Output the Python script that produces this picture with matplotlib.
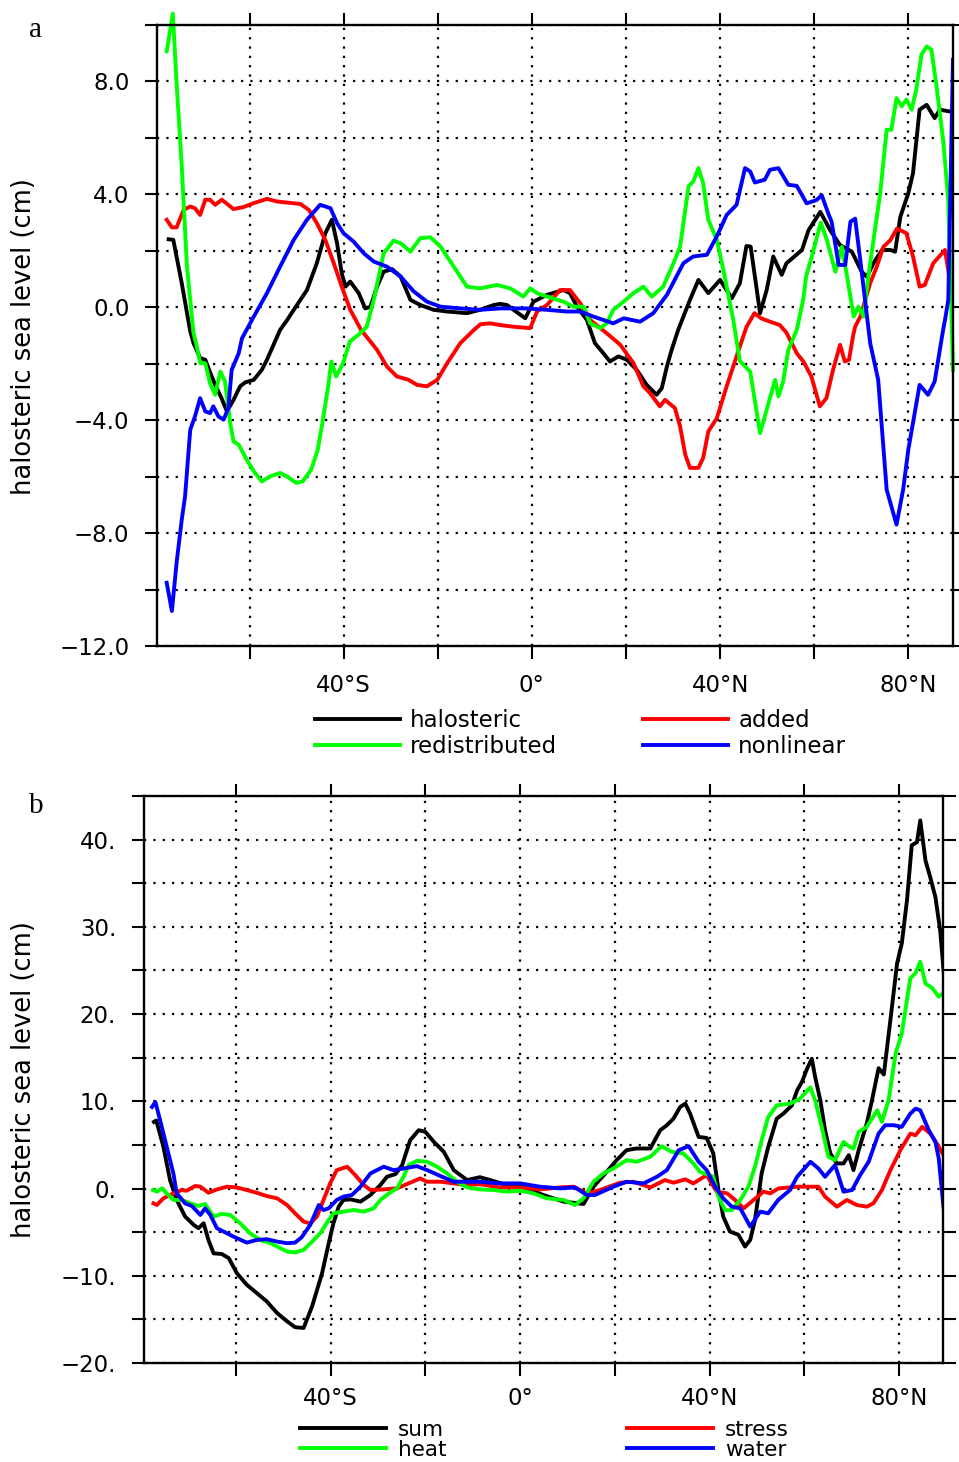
import matplotlib
matplotlib.use("Agg")
import matplotlib.pyplot as plt
from matplotlib.ticker import FixedLocator, FixedFormatter

# ---------------- Panel a data ----------------
halo_lat = [-77.2, -76.2, -74.4, -72.6, -71.9, -70.5, -69.4, -68.3, -67.3, -66.0, -64.8, -63.4, -62.0,
            -60.9, -59.1, -57.4, -56.3, -54.9, -53.5, -52.0, -50.6, -47.8, -45.7, -43.9, -42.5, -41.4,
            -40.4, -39.6, -38.6, -36.8, -35.4, -34.3, -32.9, -31.5, -29.7, -27.9, -25.8, -23.7, -20.9,
            -18.0, -13.8, -11.0, -8.1, -6.7, -5.3, -1.4, 0.35, 3.2, 6.7, 8.1, 9.6, 11.7, 13.4, 15.2,
            16.6, 18.4, 20.2, 22.3, 24.4, 26.5, 27.6, 28.7, 29.7, 31.1, 33.6, 35.4, 37.5, 40.0, 42.5,
            44.2, 45.6, 46.5, 48.5, 49.9, 51.3, 53.1, 54.1, 54.9, 57.4, 58.8, 61.3, 63.4, 65.5, 68.0,
            70.1, 71.2, 72.6, 74.4, 76.2, 77.2, 78.3, 80.0, 81.0, 82.4, 83.9, 85.6, 86.7, 88.7]
halo_val = [2.41, 2.39, 0.85, -0.85, -1.27, -1.80, -1.86, -2.34, -2.75, -3.20, -3.69, -3.28, -2.80,
            -2.66, -2.57, -2.22, -1.86, -1.33, -0.80, -0.45, -0.09, 0.61, 1.56, 2.62, 3.10, 2.27,
            1.20, 0.73, 0.91, 0.50, -0.04, 0.02, 0.73, 1.26, 1.35, 1.09, 0.26, 0.08, -0.09,
            -0.15, -0.21, -0.09, 0.08, 0.12, 0.08, -0.39, 0.20, 0.44, 0.61, 0.50, 0.02, -0.45, -1.27, -1.63,
            -1.92, -1.74, -1.86, -2.22, -2.75, -3.10, -2.87, -2.10, -1.51, -0.80, 0.26, 0.97, 0.50, 0.97, 0.32,
            0.85, 2.17, 2.15, -0.21, 0.61, 1.80, 1.15, 1.56, 1.67, 2.03, 2.73, 3.38, 2.73, 2.20, 1.97,
            1.26, 1.08, 1.56, 2.03, 2.03, 1.97, 3.20, 4.04, 4.75, 7.00, 7.17, 6.70, 7.00, 6.94]

added_lat = [-77.6, -76.5, -75.5, -74.0, -72.6, -71.6, -70.5, -69.4, -68.4, -67.3, -65.9, -63.4, -61.3,
             -59.1, -56.3, -54.2, -52.1, -49.2, -47.4, -45.7, -43.9, -42.1, -40.4, -38.6, -36.3, -32.9,
             -30.8, -28.7, -26.2, -24.4, -22.3, -20.1, -18.0, -15.2, -12.3, -10.9, -8.8, -6.7, -3.9,
             -0.35, 1.1, 3.2, 6.0, 8.1, 10.3, 12.4, 15.9, 18.8, 21.6, 23.7, 25.1, 27.2, 28.3, 30.4,
             31.5, 32.6, 33.6, 35.4, 36.4, 37.5, 39.3, 41.4, 43.5, 45.6, 47.3, 48.7, 50.6, 52.7, 54.1,
             56.3, 57.7, 59.4, 61.2, 62.6, 64.0, 65.5, 66.5, 67.4, 68.3, 68.7, 69.8, 71.9, 73.3, 74.7,
             76.2, 77.6, 79.6, 81.0, 82.4, 83.5, 85.3, 87.8, 89.5]
added_val = [3.10, 2.83, 2.83, 3.45, 3.57, 3.51, 3.27, 3.81, 3.81, 3.63, 3.81, 3.48, 3.55,
             3.69, 3.84, 3.75, 3.71, 3.66, 3.45, 2.98, 2.39, 1.56, 0.73, -0.09, -0.80, -1.51,
             -2.10, -2.45, -2.57, -2.75, -2.80, -2.57, -1.98, -1.27, -0.80, -0.60, -0.57, -0.63, -0.69,
             -0.74, -0.15, 0.08, 0.61, 0.61, 0.14, -0.45, -0.92, -1.33, -1.98, -2.80, -3.04, -3.51, -3.28, -3.57,
             -4.22, -5.22, -5.69, -5.69, -5.34, -4.40, -3.93, -2.80, -1.74, -0.70, -0.21, -0.39, -0.51, -0.63, -0.90,
             -1.63, -1.92, -2.45, -3.51, -3.22, -2.22, -1.33, -1.92, -1.86, -0.98, -0.69, -0.33, 0.85, 1.44, 2.14,
             2.38, 2.79, 2.62, 1.80, 0.73, 0.79, 1.56, 2.03, 0.26]

redis_lat = [-77.6, -76.3, -75.5, -74.4, -73.3, -71.9, -71.2, -70.5, -69.4, -68.4, -67.3, -66.2, -65.2,
             -64.1, -63.4, -62.3, -60.6, -59.1, -57.4, -55.6, -53.5, -52.1, -50.1, -48.7, -46.9, -45.5,
             -44.4, -43.3, -42.6, -41.6, -40.1, -38.7, -36.9, -35.1, -33.6, -31.5, -29.4, -27.9, -25.8,
             -23.7, -21.6, -19.4, -16.6, -13.8, -11.0, -7.4, -4.6, -1.8, -0.35, 1.1, 3.2, 6.7, 8.8, 11.0,
             12.4, 14.5, 15.9, 17.3, 19.5, 21.6, 23.7, 25.5, 27.9, 30.1, 31.5, 33.3, 34.3, 35.4, 36.4,
             37.5, 39.3, 40.7, 42.8, 44.2, 46.4, 48.5, 49.9, 51.7, 52.4, 53.4, 54.5, 56.3, 57.7, 58.3,
             59.5, 61.4, 62.7, 64.5, 65.9, 67.0, 68.4, 69.4, 70.5, 71.5, 72.9, 74.0, 75.4, 76.4, 77.5,
             78.6, 79.6, 80.7, 81.7, 82.8, 83.9, 84.9, 86.0, 87.4, 88.5, 89.5]
redis_val = [9.07, 10.4, 7.94, 4.99, 1.44, -0.92, -1.39, -1.98, -1.98, -2.69, -3.10, -2.28, -2.63,
             -4.10, -4.75, -4.87, -5.40, -5.81, -6.17, -5.99, -5.87, -5.99, -6.22, -6.17, -5.75, -5.05,
             -3.98, -2.81, -1.92, -2.45, -1.98, -1.22, -0.98, -0.69, 0.26, 1.91, 2.36, 2.27, 1.97,
             2.45, 2.48, 2.15, 1.44, 0.73, 0.67, 0.79, 0.67, 0.38, 0.67, 0.50, 0.38, 0.20, 0.02, 0.02,
             -0.57, -0.74, -0.57, -0.09, 0.20, 0.50, 0.73, 0.38, 0.73, 1.56, 2.15, 4.28, 4.46, 4.93, 4.40,
             3.10, 2.39, 1.32, -0.45, -1.90, -2.28, -4.46, -3.63, -2.57, -3.16, -2.63, -1.51, -0.80, 0.30, 1.10,
             1.80, 3.00, 2.38, 1.26, 2.14, 1.08, -0.33, 0.02, -0.33, 1.08, 2.73, 4.00, 6.29, 6.29, 7.41,
             7.12, 7.36, 7.00, 7.71, 8.95, 9.24, 9.13, 7.83, 5.93, 3.80, -2.22]

nonlin_lat = [-77.6, -76.5, -75.5, -74.4, -73.7, -72.6, -71.6, -70.5, -69.4, -68.4, -67.7, -66.6, -65.5,
              -64.5, -63.8, -62.3, -61.6, -59.1, -56.3, -53.5, -50.6, -47.8, -45.0, -42.8, -41.4, -40.0,
              -37.9, -35.7, -33.6, -30.8, -27.9, -25.1, -22.3, -19.4, -15.2, -11.0, -6.7, -1.1, 3.2, 7.4,
              10.3, 13.1, 17.3, 19.5, 23.0, 25.8, 28.7, 32.2, 34.3, 37.2, 39.3, 41.4, 43.5, 45.3, 46.4,
              47.4, 49.5, 50.6, 52.4, 54.5, 56.3, 58.4, 60.5, 61.6, 63.0, 63.7, 65.2, 66.6, 67.7, 68.7,
              69.8, 70.8, 71.9, 73.6, 75.4, 77.5, 78.9, 80.0, 82.4, 84.2, 85.6, 87.4, 87.8, 88.5, 89.5]
nonlin_val = [-9.76, -10.76, -9.05, -7.52, -6.70, -4.34, -3.87, -3.22, -3.69, -3.75, -3.51, -3.87, -3.98,
              -3.57, -2.22, -1.63, -1.10, -0.33, 0.50, 1.44, 2.39, 3.10, 3.63, 3.51, 2.98, 2.62,
              2.33, 1.91, 1.62, 1.44, 1.09, 0.56, 0.20, 0.02, -0.04, -0.09, -0.04, -0.04, -0.09, -0.15,
              -0.15, -0.33, -0.57, -0.39, -0.51, -0.21, 0.44, 1.56, 1.80, 1.86, 2.51, 3.27, 3.63, 4.93, 4.81,
              4.42, 4.52, 4.87, 4.93, 4.34, 4.30, 3.68, 3.80, 3.97, 3.32, 3.03, 1.50, 1.50, 3.03, 3.14,
              1.67, 0.26, -1.27, -2.57, -6.46, -7.70, -6.46, -5.05, -2.75, -3.10, -2.63, -0.80, -0.45, 0.26, 8.77]

# ---------------- Panel b data ----------------
sum_lat = [-77.3, -76.8, -75.3, -73.9, -72.5, -70.7, -68.9, -67.9, -66.8, -65.8, -64.7, -63.0, -61.5,
           -59.8, -57.7, -55.6, -53.5, -51.3, -49.2, -47.5, -45.7, -43.9, -41.8, -40.4, -39.4, -38.3,
           -37.3, -35.8, -33.7, -31.6, -29.5, -28.1, -26.3, -24.9, -23.2, -21.4, -20.0, -18.2, -16.1,
           -14.0, -11.2, -8.5, -6.3, -2.8, 0.7, 4.9, 9.2, 13.4, 15.5, 18.3, 20.4, 22.5, 24.6, 27.5,
           29.6, 31.0, 32.4, 33.8, 34.9, 35.9, 37.7, 39.4, 40.8, 41.9, 42.9, 44.3, 46.1, 47.5, 48.6,
           49.6, 51.0, 52.4, 54.2, 55.6, 57.4, 58.5, 59.5, 60.6, 61.6, 62.3, 63.4, 64.4, 65.5, 66.9,
           68.3, 69.4, 70.4, 71.5, 73.2, 74.3, 75.7, 76.8, 78.2, 79.6, 80.6, 81.7, 82.7, 83.8, 84.5,
           85.6, 86.6, 87.7, 88.7, 89.6]
sum_val = [7.64, 7.80, 4.78, 0.97, -1.31, -3.22, -4.17, -4.55, -3.98, -5.89, -7.43, -7.50, -7.98,
           -9.70, -11.03, -11.98, -12.93, -14.27, -15.22, -15.90, -15.98, -13.50, -9.70, -6.27, -3.98, -2.08,
           -1.31, -1.24, -1.50, -0.74, 0.40, 1.35, 1.66, 2.69, 5.54, 6.69, 6.50, 5.35, 4.21,
           2.11, 0.97, 1.30, 0.97, 0.40, 0.13, -0.74, -1.50, -1.77, 0.21, 1.92, 3.26, 4.40, 4.59, 4.59,
           6.69, 7.26, 8.02, 9.35, 9.73, 8.59, 5.92, 5.80, 4.02, -0.20, -3.22, -4.93, -5.30, -6.65, -5.89,
           -3.60, 1.73, 4.78, 8.02, 8.59, 9.54, 11.26, 12.20, 13.74, 14.88, 12.80, 10.10, 6.69, 4.02, 2.88,
           2.88, 3.83, 2.11, 4.40, 7.45, 10.10, 13.80, 13.07, 19.35, 25.80, 28.10, 33.07, 39.35, 39.70, 42.2,
           37.60, 35.70, 33.40, 29.60, 23.90]

heat_lat = [-77.5, -76.7, -75.6, -74.6, -73.2, -71.4, -69.6, -67.9, -66.5, -64.7, -63.0, -61.2, -59.1,
            -57.0, -54.9, -52.7, -50.6, -49.2, -47.5, -45.7, -43.9, -42.2, -40.4, -39.4, -37.3, -35.1,
            -33.0, -30.9, -29.5, -27.7, -26.0, -24.6, -23.5, -21.8, -19.6, -17.5, -15.4, -13.3, -11.2,
            -8.5, -5.6, -2.8, 0.0, 2.8, 5.6, 9.2, 11.6, 13.4, 15.5, 17.6, 19.7, 22.5, 24.6, 27.5, 29.9,
            32.0, 34.5, 36.6, 38.0, 40.8, 41.9, 43.3, 44.7, 46.5, 48.2, 49.6, 51.0, 52.4, 54.2, 57.0,
            59.1, 61.3, 62.3, 63.7, 65.1, 66.5, 68.3, 69.6, 70.4, 71.5, 73.2, 75.4, 76.4, 77.8, 79.3,
            80.6, 82.4, 83.5, 84.5, 85.6, 87.0, 88.4, 89.4]
heat_val = [-0.17, -0.36, 0.02, -0.55, -1.31, -1.31, -1.70, -2.00, -1.77, -3.22, -2.91, -3.03, -3.98,
            -5.13, -5.89, -6.27, -6.84, -7.22, -7.33, -7.03, -6.08, -5.13, -3.60, -2.84, -2.65, -2.46,
            -2.65, -2.27, -1.31, -0.55, 0.02, 1.35, 2.69, 3.18, 3.07, 2.50, 1.73, 0.78, 0.13,
            -0.10, -0.17, -0.36, -0.25, -0.55, -1.12, -1.31, -1.89, -1.12, 0.78, 1.73, 2.30, 3.26, 3.07, 3.64, 4.86,
            4.21, 4.02, 2.88, 1.92, 1.35, -0.96, -2.48, -2.48, -1.31, 0.21, 2.49, 5.54, 8.20, 9.54, 9.73,
            10.30, 11.60, 10.10, 7.07, 3.64, 3.26, 5.35, 4.78, 4.59, 6.50, 7.07, 8.97, 7.64, 10.10, 15.50,
            17.80, 24.10, 24.70, 26.00, 23.50, 23.00, 22.00, 22.40]

stress_lat = [-77.4, -76.7, -75.3, -73.2, -71.4, -70.4, -68.6, -67.5, -65.8, -64.0, -61.9, -59.8, -57.7,
              -55.6, -53.5, -51.3, -49.2, -47.5, -45.7, -44.3, -42.9, -41.5, -40.1, -38.7, -36.5, -34.8,
              -33.0, -31.6, -28.8, -26.0, -23.2, -21.1, -19.6, -16.8, -14.0, -11.2, -8.5, -4.2, 0.0, 4.2,
              8.5, 11.3, 14.1, 16.9, 21.1, 23.9, 27.5, 30.6, 32.4, 34.9, 36.6, 39.4, 41.5, 43.7, 45.4,
              47.2, 49.3, 51.4, 52.8, 54.6, 58.5, 63.0, 64.4, 66.9, 69.0, 71.1, 73.2, 74.6, 76.4, 78.2,
              80.3, 82.4, 83.5, 84.9, 86.6, 88.0, 89.4]
stress_val = [-1.70, -1.89, -1.12, -0.55, -0.17, -0.25, 0.29, 0.21, -0.48, -0.10, 0.21, 0.13, -0.17,
              -0.48, -0.86, -1.12, -1.89, -2.84, -3.79, -4.00, -3.22, -1.31, 0.59, 2.11, 2.50, 1.54,
              0.40, -0.17, -0.10, 0.02, 0.67, 1.16, 0.78, 0.78, 0.59, 0.40, 0.50, 0.13, 0.13, -0.10,
              0.13, 0.21, -0.55, -0.17, 0.67, 0.78, 0.13, 0.97, 0.67, 1.05, 0.59, 1.54, -0.36, -0.55, -1.31,
              -2.27, -1.31, -0.36, -0.55, 0.02, 0.21, 0.21, -0.93, -2.08, -1.31, -1.89, -2.08, -1.70, -0.17, 2.11,
              4.40, 6.30, 6.11, 7.07, 6.30, 5.16, 3.83]

water_lat = [-77.7, -77.0, -76.0, -74.6, -73.2, -72.5, -70.7, -69.3, -67.5, -66.5, -65.4, -64.0, -62.6,
             -60.5, -57.7, -55.6, -53.5, -51.3, -49.2, -47.5, -46.1, -44.3, -42.5, -41.5, -40.4, -38.7,
             -37.3, -35.5, -33.7, -31.6, -28.8, -26.7, -24.6, -21.8, -19.6, -16.8, -14.0, -8.5, -4.2, 0.0,
             4.2, 8.5, 11.6, 14.1, 15.8, 19.7, 22.5, 26.1, 28.9, 31.0, 33.5, 35.6, 37.7, 39.4, 41.2,
             42.9, 44.7, 46.5, 48.6, 50.7, 52.4, 54.5, 57.0, 58.5, 61.3, 63.0, 64.4, 66.5, 68.3, 70.1,
             71.8, 73.6, 75.7, 77.1, 78.9, 80.6, 82.4, 83.5, 84.5, 86.3, 87.7, 88.4, 89.4]
water_val = [9.35, 9.92, 7.83, 4.78, 1.73, -0.55, -1.70, -2.00, -3.03, -2.27, -3.03, -4.55, -4.93,
             -5.51, -6.20, -5.89, -5.81, -6.08, -6.27, -6.20, -5.58, -4.17, -1.89, -2.46, -2.27, -1.31,
             -0.93, -0.74, 0.21, 1.73, 2.50, 2.11, 2.30, 2.57, 2.11, 1.43, 0.78, 0.78, 0.59, 0.59,
             0.21, 0.02, 0.13, -0.74, -0.74, 0.21, 0.78, 0.59, 1.35, 2.11, 4.40, 4.86, 3.07, 2.11, 0.21,
             -1.12, -2.08, -2.27, -4.36, -2.65, -2.84, -1.31, -0.17, 1.35, 3.07, 2.30, 1.35, 2.69, -0.36, -0.17,
             1.54, 3.07, 6.30, 7.26, 7.26, 7.07, 8.59, 9.16, 8.97, 6.69, 5.35, 3.45, -2.08]

# ---------------- axis tick definitions ----------------
x_ticks = [-60, -40, -20, 0, 20, 40, 60, 80]
x_ticklabels = ['', '40°S', '', '0°', '', '40°N', '', '80°N']
ya_ticks = [-12, -10, -8, -6, -4, -2, 0, 2, 4, 6, 8, 10]
ya_ticklabels = ['\u221212.0', '', '\u22128.0', '', '\u22124.0', '', '0.0', '', '4.0', '', '8.0', '']
yb_ticks = [-20, -15, -10, -5, 0, 5, 10, 15, 20, 25, 30, 35, 40, 45]
yb_ticklabels = ['\u221220.', '', '\u221210.', '', '0.', '', '10.', '', '20.', '', '30.', '', '40.', '']

W, H = 959, 1462
fig = plt.figure(figsize=(W / 100, H / 100), dpi=100)
plt.rcParams['font.family'] = ['DejaVu Sans']


def setup(ax, xlim, ylim, yt, ytl, xpad):
    ax.set_xlim(*xlim)
    ax.set_ylim(*ylim)
    ax.xaxis.set_major_locator(FixedLocator(x_ticks))
    ax.xaxis.set_major_formatter(FixedFormatter(x_ticklabels))
    ax.yaxis.set_major_locator(FixedLocator(yt))
    ax.yaxis.set_major_formatter(FixedFormatter(ytl))
    ax.tick_params(axis='both', which='major', direction='out', length=9, width=1.5,
                   top=True, right=True, labelsize=16.5, color='black')
    ax.tick_params(axis='x', pad=xpad)
    ax.tick_params(axis='y', pad=11)
    for s in ax.spines.values():
        s.set_linewidth(1.7)
    ax.grid(True, which='major', color='black', linestyle=(0, (1, 3.2)), linewidth=1.6)
    ax.set_axisbelow(True)


lw = 2.8
# ---------- Panel a ----------
axa = fig.add_axes([157.3 / W, 1 - 646 / H, (953 - 157.3) / W, (646 - 25) / H])
setup(axa, (-79.6, 89.5), (-12, 10), ya_ticks, ya_ticklabels, 11)
la1, = axa.plot(halo_lat, halo_val, color='black', lw=lw, label='halosteric')
la3, = axa.plot(added_lat, added_val, color='#ff0000', lw=lw, label='added')
la2, = axa.plot(redis_lat, redis_val, color='#00ff00', lw=lw, label='redistributed', clip_on=False)
la4, = axa.plot(nonlin_lat, nonlin_val, color='#0000ff', lw=lw, label='nonlinear')
axa.legend(handles=[la1, la2, la3, la4], ncol=2, loc='upper left',
           bbox_to_anchor=(315 / W, 1 - 709 / H), bbox_transform=fig.transFigure,
           frameon=False, borderpad=0, borderaxespad=0, handlelength=3.7, handletextpad=0.45,
           columnspacing=3.75, labelspacing=0.12, fontsize=16.5)

# ---------- Panel b ----------
axb = fig.add_axes([144 / W, 1 - 1363 / H, 799 / W, 567 / H])
setup(axb, (-79.4, 89.3), (-20, 45), yb_ticks, yb_ticklabels, 8)
lb1, = axb.plot(sum_lat, sum_val, color='black', lw=lw, label='sum')
lb3, = axb.plot(stress_lat, stress_val, color='#ff0000', lw=lw, label='stress')
lb2, = axb.plot(heat_lat, heat_val, color='#00ff00', lw=lw, label='heat')
lb4, = axb.plot(water_lat, water_val, color='#0000ff', lw=lw, label='water')
axb.legend(handles=[lb1, lb2, lb3, lb4], ncol=2, loc='upper left',
           bbox_to_anchor=(300 / W, 1 - 1420 / H), bbox_transform=fig.transFigure,
           frameon=False, borderpad=0, borderaxespad=0, handlelength=4.0, handletextpad=0.55,
           columnspacing=8.4, labelspacing=0.0, fontsize=15.5)

# panel letters and y labels
fig.text(35 / W, 1 - 37 / H, 'a', ha='center', va='baseline', fontsize=21, family='Liberation Serif')
fig.text(36 / W, 1 - 813 / H, 'b', ha='center', va='baseline', fontsize=21, family='Liberation Serif')
fig.text(24 / W, 1 - 337 / H, 'halosteric sea level (cm)', rotation=90, ha='center', va='center', fontsize=18.5)
fig.text(24 / W, 1 - 1080 / H, 'halosteric sea level (cm)', rotation=90, ha='center', va='center', fontsize=18.5)

fig.savefig('out.png', dpi=100)
